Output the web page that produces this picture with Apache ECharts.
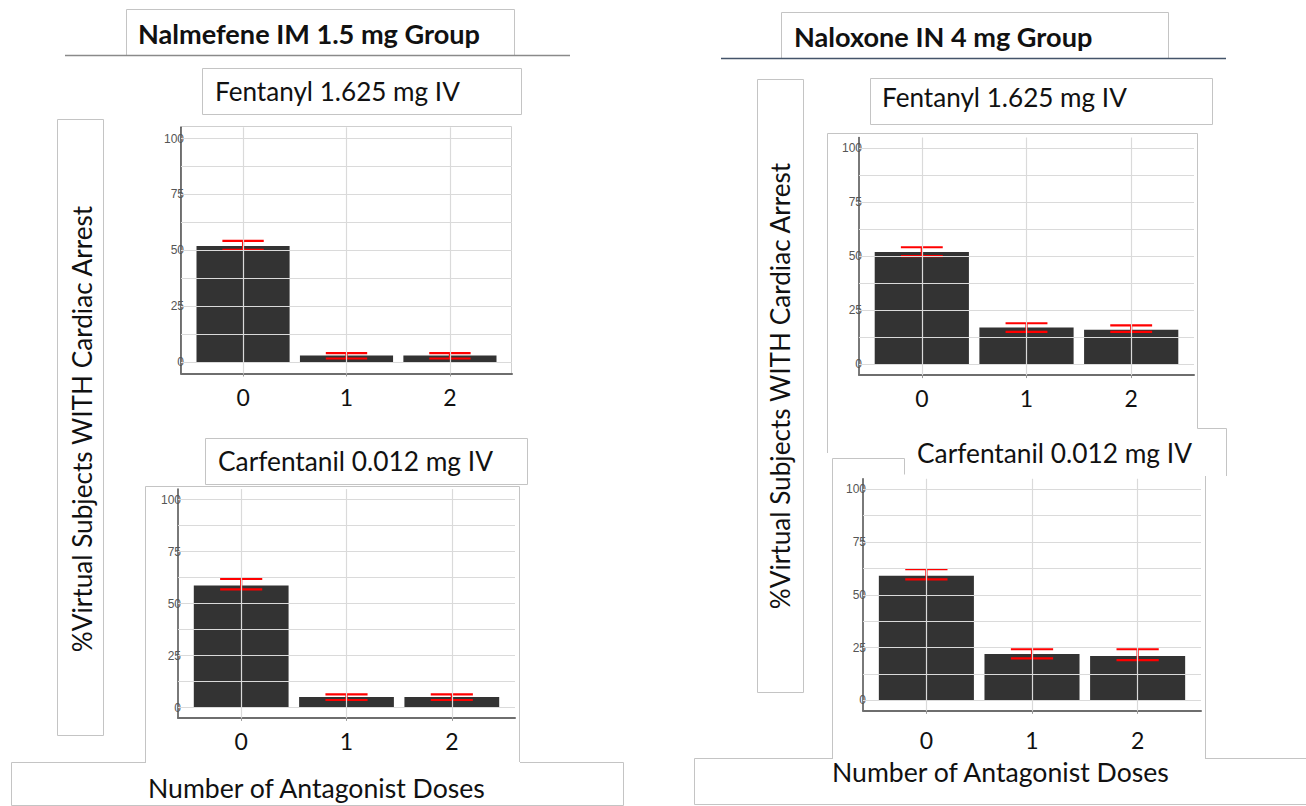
<!DOCTYPE html>
<html>
<head>
<meta charset="utf-8">
<script src="https://cdn.jsdelivr.net/npm/echarts@6/dist/echarts.min.js"></script>
<style>
html,body{margin:0;padding:0;background:#fff;}
#chart{width:1306px;height:806px;}
</style>
</head>
<body>
<div id="chart"></div>
<script>
// ---------------- data ----------------
const categories = ['0', '1', '2'];
const yTickLabels = [0, 25, 50, 75, 100];
const yGridMinor = [12.5, 37.5, 62.5, 87.5];

const nalmefeneFentanyl = [52, 3, 3];
const nalmefeneFentanylLow = [50.3, 1.7, 1.7];
const nalmefeneFentanylHigh = [54.3, 4.1, 4.1];

const nalmefeneCarfentanil = [58.7, 5, 5];
const nalmefeneCarfentanilLow = [56.8, 3.6, 3.6];
const nalmefeneCarfentanilHigh = [61.8, 6.3, 6.3];

const naloxoneFentanyl = [52, 17, 16];
const naloxoneFentanylLow = [50.1, 15, 15];
const naloxoneFentanylHigh = [54.2, 19, 18];

const naloxoneCarfentanil = [59, 22, 21];
const naloxoneCarfentanilLow = [57.3, 19.9, 19];
const naloxoneCarfentanilHigh = [62.1, 24.2, 24.2];

const groupTitles = ['Nalmefene IM 1.5 mg Group', 'Naloxone IN 4 mg Group'];
const opioidTitles = ['Fentanyl 1.625 mg IV', 'Carfentanil 0.012 mg IV'];
const yTitle = '%Virtual Subjects WITH Cardiac Arrest';
const xTitle = 'Number of Antagonist Doses';

// ---------------- layout (pixels) ----------------
const FONT = 'Lato';
function fitSize(text, weight, targetW) {
  const ctx = document.createElement('canvas').getContext('2d');
  ctx.font = weight + ' 100px ' + FONT;
  return 100 * targetW / ctx.measureText(text).width;
}

const panels = [
  { x0: 181, x1: 512, zero: 362.3, hundred: 138.5, margin: 12, vals: nalmefeneFentanyl, lo: nalmefeneFentanylLow, hi: nalmefeneFentanylHigh },
  { x0: 178, x1: 515, zero: 707.5, hundred: 499.5, margin: 12, vals: nalmefeneCarfentanil, lo: nalmefeneCarfentanilLow, hi: nalmefeneCarfentanilHigh },
  { x0: 859, x1: 1194, zero: 364.3, hundred: 148.3, margin: 11, vals: naloxoneFentanyl, lo: naloxoneFentanylLow, hi: naloxoneFentanylHigh },
  { x0: 863, x1: 1201, zero: 700.3, hundred: 489.3, margin: 18, vals: naloxoneCarfentanil, lo: naloxoneCarfentanilLow, hi: naloxoneCarfentanilHigh }
];

const grids = [], xAxes = [], yAxes = [], series = [];
panels.forEach((p, i) => {
  const u = (p.zero - p.hundred) / 100;
  grids.push({ left: p.x0, width: p.x1 - p.x0, top: p.hundred - 5 * u, height: 110 * u, containLabel: false });
  xAxes.push({
    type: 'value', gridIndex: i, min: -0.6, max: 2.6,
    axisLine: { show: true, onZero: false, lineStyle: { color: '#6e6e6e', width: 2 } },
    axisTick: { show: true, length: 3, customValues: [0, 1, 2], lineStyle: { color: '#999' } },
    axisLabel: { customValues: [0, 1, 2], margin: p.margin, fontFamily: FONT, fontSize: 23, color: '#111',
      formatter: v => categories[Math.round(v)] },
    splitLine: { show: false }
  });
  yAxes.push({
    type: 'value', gridIndex: i, min: -5, max: 105,
    axisLine: { show: true, onZero: false, lineStyle: { color: '#4d4d4d', width: 1.5 } },
    axisTick: { show: false },
    axisLabel: { customValues: yTickLabels, margin: -3, fontFamily: 'Liberation Sans', fontSize: 12, color: '#555555' },
    splitLine: { show: false }
  });
  // grid lines
  series.push({
    type: 'line', xAxisIndex: i, yAxisIndex: i, data: [], z: 1, silent: true,
    markLine: {
      silent: true, symbol: 'none', label: { show: false }, animation: false,
      lineStyle: { color: '#dadada', width: 1.2, type: 'solid' },
      data: [0, 1, 2].map(v => ({ xAxis: v }))
        .concat(yTickLabels.map(v => ({ yAxis: v })))
        .concat(yGridMinor.map(v => ({ yAxis: v })))
    }
  });
  series.push({
    type: 'bar', xAxisIndex: i, yAxisIndex: i, z: 2, barWidth: '90%',
    itemStyle: { color: '#333333' },
    data: p.vals.map((v, k) => [k, v]),
    animation: false
  });
  series.push({
    type: 'custom', xAxisIndex: i, yAxisIndex: i, z: 3, animation: false,
    data: p.vals.map((v, k) => [k, p.lo[k], p.hi[k]]),
    renderItem: (params, api) => {
      const x = api.value(0);
      const top = api.coord([x, api.value(2)]);
      const bot = api.coord([x, api.value(1)]);
      const half = api.size([0.4, 0])[0] / 2;
      const st = { stroke: '#ff0000', lineWidth: 2.2 };
      return { type: 'group', children: [
        { type: 'line', shape: { x1: top[0] - half, y1: top[1], x2: top[0] + half, y2: top[1] }, style: st },
        { type: 'line', shape: { x1: bot[0] - half, y1: bot[1], x2: bot[0] + half, y2: bot[1] }, style: st },
        { type: 'line', shape: { x1: top[0], y1: top[1], x2: bot[0], y2: bot[1] }, style: st }
      ]};
    }
  });
});

// ---------------- decorations ----------------
const BOX = '#c4c4c4';
function rect(x, y, w, h, stroke, fill) {
  return { type: 'rect', shape: { x, y, width: w, height: h }, style: { stroke: stroke || BOX, fill: fill || '#fff', lineWidth: 1 } };
}
function poly(points, color, w) {
  return { type: 'polyline', shape: { points }, style: { stroke: color || BOX, fill: null, lineWidth: w || 1 } };
}
function txt(text, x, y, size, weight, align, rot) {
  return { type: 'text', x, y, rotation: rot || 0,
    style: { text, fontFamily: FONT, fontSize: size, fontWeight: weight, fill: '#111', align: align || 'left', verticalAlign: 'middle' } };
}

const gSize = fitSize(groupTitles[0], 'bold', 342);
const fSize = fitSize(opioidTitles[0], 'normal', 245);
const cSize = fitSize(opioidTitles[1], 'normal', 275);
const xSize = fitSize(xTitle, 'normal', 339);
const ySize = fitSize(yTitle, 'normal', 448);

const graphics = [
  // left column
  rect(126.5, 9.5, 388, 46),
  poly([[65, 55.5], [570, 55.5]], '#8a8a8a', 1.5),
  rect(202.5, 68.5, 319, 46),
  rect(57.5, 119.5, 46, 616),
  rect(180.5, 126.5, 331, 247, '#cfcfcf', 'rgba(0,0,0,0)'),
  rect(205.5, 438.5, 322, 46),
  rect(11.5, 762.5, 612, 43),
  { type: 'rect', shape: { x: 146, y: 487, width: 374, height: 276 }, style: { fill: '#fff', stroke: null } },
  poly([[145.5, 762], [145.5, 486.5], [519.5, 486.5], [519.5, 762]]),
  txt(groupTitles[0], 138, 33, gSize, 'bold'),
  txt(opioidTitles[0], 215, 91, fSize, 'normal'),
  txt(opioidTitles[1], 218, 461, cSize, 'normal'),
  txt(xTitle, 148, 788, xSize, 'normal'),
  txt(yTitle, 82, 429, ySize, 'normal', 'center', Math.PI / 2),
  // right column
  rect(781.5, 12.5, 387, 46),
  poly([[721, 58.5], [1226, 58.5]], '#44546a', 1.5),
  rect(870.5, 78.5, 342, 46),
  rect(757.5, 79.5, 46, 613),
  poly([[827.5, 453], [827.5, 133.5], [1197.5, 133.5], [1197.5, 428.5], [1226.5, 428.5], [1226.5, 476]]),
  rect(694.5, 758.5, 612, 46),
  { type: 'rect', shape: { x: 833, y: 459, width: 372, height: 300 }, style: { fill: '#fff', stroke: null } },
  poly([[832.5, 758], [832.5, 458.5], [904.5, 458.5], [904.5, 474.5]]),
  poly([[1205.5, 476], [1205.5, 758]]),
  txt(groupTitles[1], 794, 36, gSize, 'bold'),
  txt(opioidTitles[0], 882, 97, fSize, 'normal'),
  txt(opioidTitles[1], 917, 453, cSize, 'normal'),
  txt(xTitle, 832, 772, xSize, 'normal'),
  txt(yTitle, 780, 386, ySize, 'normal', 'center', Math.PI / 2)
];

const chart = echarts.init(document.getElementById('chart'), null, { renderer: 'svg' });
chart.setOption({
  animation: false,
  backgroundColor: '#ffffff',
  graphic: { elements: graphics.map(e => Object.assign({ z: -10, silent: true }, e)) },
  grid: grids,
  xAxis: xAxes,
  yAxis: yAxes,
  series: series
});
</script>
</body>
</html>
